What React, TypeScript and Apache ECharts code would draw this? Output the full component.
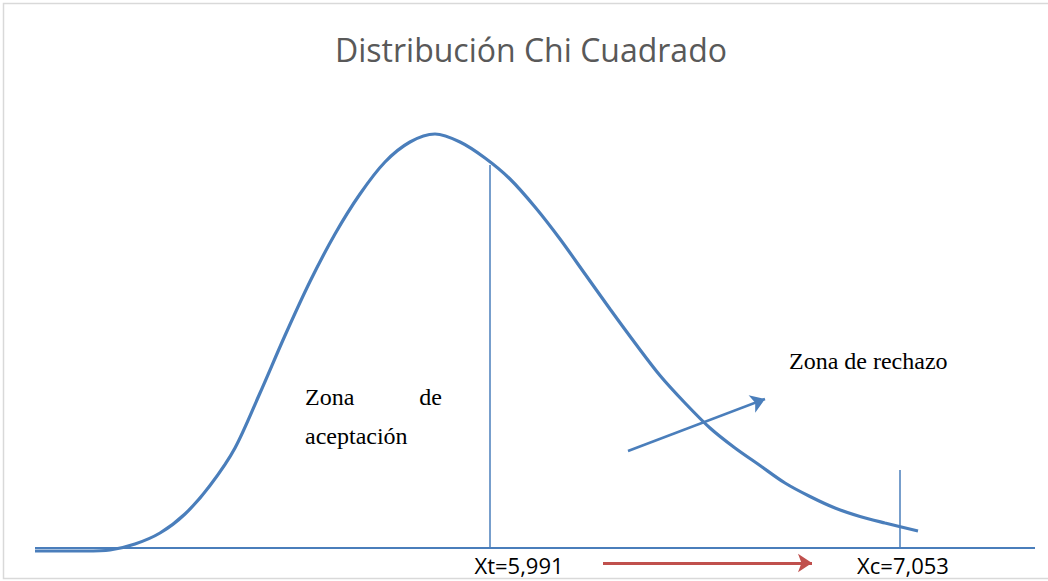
import React, { useEffect, useRef } from "react";
import * as echarts from "echarts";

// Curve (arbitrary units: x 0..10 along the axis, y 0..10 upward)
const curveX = [0, 0.5, 0.75, 1.0, 1.25, 1.5, 1.75, 2.0, 2.25, 2.5, 2.75, 3.0, 3.25, 3.5, 3.75, 4.0, 4.25, 4.5, 4.75, 5.0, 5.25, 5.5, 5.75, 6.0, 6.25, 6.5, 6.75, 7.0, 7.25, 7.5, 7.75, 8.0, 8.25, 8.5, 8.83];
const curveY = [-0.06, -0.06, -0.04, 0.08, 0.3, 0.68, 1.25, 2.0, 3.1, 4.25, 5.33, 6.28, 7.08, 7.72, 8.12, 8.28, 8.12, 7.8, 7.38, 6.82, 6.18, 5.48, 4.78, 4.1, 3.45, 2.9, 2.4, 2.0, 1.65, 1.3, 1.03, 0.8, 0.63, 0.5, 0.34];

const baselineX = [0, 10];
const baselineY = [0, 0];

const criticalX = [4.55, 8.65];
const criticalTop = [7.66, 1.56];
const criticalLabels = ["Xt=5,991", "Xc=7,053"];

const rejectArrowFrom = [5.93, 1.94];
const rejectArrowTo = [7.3, 2.98];
const redArrowFrom = [5.68, -0.3];
const redArrowTo = [7.77, -0.3];

const titleText = "Distribución Chi Cuadrado";
const acceptWords = ["Zona", "de", "aceptación"];
const rejectText = "Zona de rechazo";

const BLUE = "#4a7ebb";

export default function App() {
  const ref = useRef<HTMLDivElement>(null);
  useEffect(() => {
    if (!ref.current) return;
    const chart = echarts.init(ref.current, null, { renderer: "svg" });
    const serif = "'Liberation Serif', 'Times New Roman', serif";
    const sans = "'Open Sans', 'Noto Sans', sans-serif";
    chart.setOption({
      animation: false,
      backgroundColor: "#ffffff",
      grid: { left: 0, right: 0, top: 0, bottom: 0 },
      xAxis: { type: "value", min: -0.35, max: 10.13, show: false },
      yAxis: { type: "value", min: -0.66, max: 10.96, show: false },
      series: [
        {
          type: "line",
          data: baselineX.map((x, i) => [x, baselineY[i]]),
          showSymbol: false,
          lineStyle: { color: BLUE, width: 2 },
          z: 2,
        },
        ...criticalX.map((x, i) => ({
          type: "line",
          data: [
            [x, 0],
            [x, criticalTop[i]],
          ],
          showSymbol: false,
          lineStyle: { color: BLUE, width: 1.5 },
          z: 2,
        })),
        {
          type: "line",
          data: curveX.map((x, i) => [x, curveY[i]]),
          smooth: 0.3,
          showSymbol: false,
          lineStyle: { color: BLUE, width: 3.2 },
          z: 3,
        },
        {
          type: "lines",
          coordinateSystem: "cartesian2d",
          symbol: ["none", "arrow"],
          symbolSize: 14,
          data: [
            { coords: [rejectArrowFrom, rejectArrowTo], lineStyle: { color: BLUE, width: 2.5 } },
            { coords: [redArrowFrom, redArrowTo], lineStyle: { color: "#c0504d", width: 3 } },
          ],
          lineStyle: { opacity: 1, curveness: 0 },
          z: 4,
        },
      ],
      graphic: [
        {
          type: "rect",
          shape: { x: 3.5, y: 3.5, width: 1100, height: 575 },
          style: { fill: "none", stroke: "#d9d9d9", lineWidth: 1.5 },
          silent: true,
        },
        {
          type: "text",
          x: 531,
          y: 49,
          style: { text: titleText, fontSize: 32, fontFamily: sans, fill: "#595959", align: "center", verticalAlign: "middle" },
        },
        {
          type: "text",
          x: 305,
          y: 397,
          style: { text: acceptWords[0], fontSize: 24, fontFamily: serif, fill: "#000", align: "left", verticalAlign: "middle" },
        },
        {
          type: "text",
          x: 442,
          y: 397,
          style: { text: acceptWords[1], fontSize: 24, fontFamily: serif, fill: "#000", align: "right", verticalAlign: "middle" },
        },
        {
          type: "text",
          x: 305,
          y: 436,
          style: { text: acceptWords[2], fontSize: 24, fontFamily: serif, fill: "#000", align: "left", verticalAlign: "middle" },
        },
        {
          type: "text",
          x: 789,
          y: 361,
          style: { text: rejectText, fontSize: 24, fontFamily: serif, fill: "#000", align: "left", verticalAlign: "middle" },
        },
        {
          type: "text",
          x: 519,
          y: 565,
          style: { text: criticalLabels[0], fontSize: 22, fontFamily: sans, fill: "#000", align: "center", verticalAlign: "middle" },
        },
        {
          type: "text",
          x: 903,
          y: 565,
          style: { text: criticalLabels[1], fontSize: 22, fontFamily: sans, fill: "#000", align: "center", verticalAlign: "middle" },
        },
      ],
    });
    return () => chart.dispose();
  }, []);
  return <div ref={ref} style={{ position: "absolute", left: 0, top: 0, width: 1048, height: 581 }} />;
}
